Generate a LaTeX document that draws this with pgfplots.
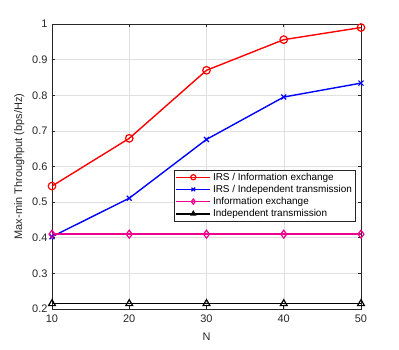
\documentclass[border=0pt]{standalone}
\usepackage{pgfplots}
\pgfplotsset{compat=1.18}
\usepackage{fontspec}
\setmainfont{Liberation Sans}
\definecolor{axgray}{gray}{0.15}
\definecolor{gridgray}{gray}{0.88}
\begin{document}
\begin{tikzpicture}
\begin{axis}[
  scale only axis,
  width=309bp, height=285bp,
  xmin=10, xmax=50, ymin=0.2, ymax=1,
  xtick={10,20,30,40,50},
  ytick={0.2,0.3,0.4,0.5,0.6,0.7,0.8,0.9,1},
  yticklabels={0.2,0.3,0.4,0.5,0.6,0.7,0.8,0.9,1},
  xticklabels={10,20,30,40,50},
  tick align=inside,
  tick pos=both,
  major tick length=3bp,
  grid=major,
  grid style={gridgray, line width=0.5pt},
  axis line style={axgray, line width=0.6pt},
  every tick/.style={axgray, line width=0.6pt},
  ticklabel style={font=\fontsize{11}{13}\selectfont, text=axgray},
  xticklabel style={yshift=-2bp},
  yticklabel style={xshift=-1bp},
  xlabel={N},
  ylabel={Max-min Throughput (bps/Hz)},
  label style={font=\fontsize{11}{13}\selectfont, text=axgray},
  xlabel style={yshift=-4bp},
  ylabel style={yshift=1bp},
  legend style={at={(0.983,0.489)}, anchor=north east, font=\fontsize{10}{11}\selectfont,
    draw=axgray, line width=0.5pt, inner xsep=1.5pt, inner ysep=1pt, row sep=-0.5pt, fill=white},
  legend cell align=left,
  legend image code/.code={
    \draw[mark repeat=2,mark phase=2,#1,mark size=2.6pt] plot coordinates {(0bp,0bp) (17bp,0bp) (34bp,0bp)};
  },
]
\addplot[red, line width=1.4pt, mark=o, mark size=3.8pt, mark options={line width=1.2pt}]
 coordinates {(10,0.545) (20,0.679) (30,0.870) (40,0.956) (50,0.990)};
\addlegendentry{IRS / Information exchange}
\addplot[blue, line width=1.4pt, mark=x, mark size=3.5pt, mark options={line width=1.2pt}]
 coordinates {(10,0.403) (20,0.511) (30,0.676) (40,0.795) (50,0.834)};
\addlegendentry{IRS / Independent transmission}
\addplot[magenta, line width=1.4pt, mark=diamond, mark size=4pt, mark options={line width=1.2pt}]
 coordinates {(10,0.410) (20,0.410) (30,0.410) (40,0.410) (50,0.410)};
\addlegendentry{Information exchange}
\addplot[black, line width=1.4pt, mark=triangle, mark size=4pt, mark options={line width=1.2pt}]
 coordinates {(10,0.215) (20,0.215) (30,0.215) (40,0.215) (50,0.215)};
\addlegendentry{Independent transmission}
\end{axis}
\useasboundingbox (current axis.south west) ++(-52bp,-41bp) rectangle ([shift={(38bp,24bp)}]current axis.north east);
\end{tikzpicture}
\end{document}
